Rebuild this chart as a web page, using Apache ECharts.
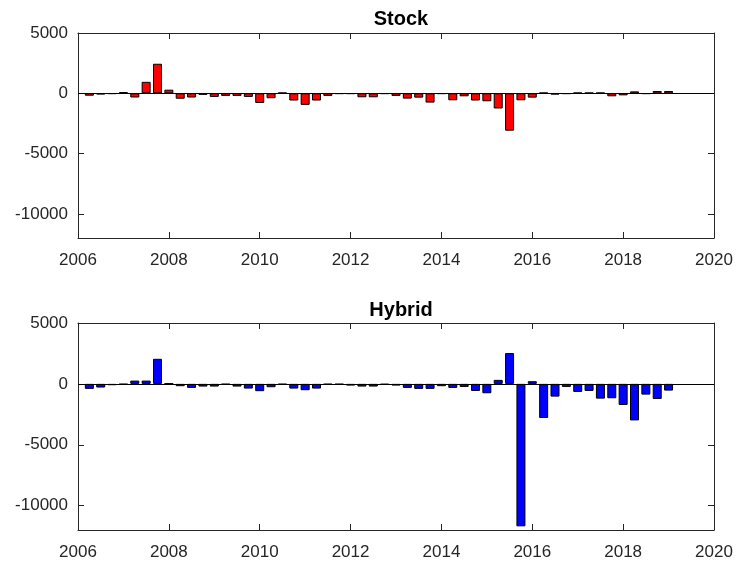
<!DOCTYPE html>
<html>
<head>
<meta charset="utf-8">
<script src="https://cdn.jsdelivr.net/npm/echarts@6/dist/echarts.min.js"></script>
<style>
html,body{margin:0;padding:0;background:#fff;}
#chart{width:738px;height:562px;}
</style>
</head>
<body>
<div id="chart"></div>
<script>
// quarter positions (year + fraction)
var quarters = [2006.25,2006.5,2006.75,2007,2007.25,2007.5,2007.75,2008,
2008.25,2008.5,2008.75,2009,2009.25,2009.5,2009.75,2010,
2010.25,2010.5,2010.75,2011,2011.25,2011.5,2011.75,2012,
2012.25,2012.5,2012.75,2013,2013.25,2013.5,2013.75,2014,
2014.25,2014.5,2014.75,2015,2015.25,2015.5,2015.75,2016,
2016.25,2016.5,2016.75,2017,2017.25,2017.5,2017.75,2018,
2018.25,2018.5,2018.75,2019];

var stockFlow = [-200,-100,-50,100,-350,950,2450,300,
-450,-350,-130,-300,-220,-220,-300,-800,
-410,50,-600,-960,-600,-220,-50,-50,
-330,-330,-50,-220,-440,-360,-770,-50,
-580,-250,-600,-660,-1260,-3100,-580,-360,
50,-110,-50,50,50,50,-250,-170,
160,-50,190,190];

var hybridFlow = [-410,-300,-110,-50,270,270,2060,30,
-190,-330,-220,-220,-50,-220,-385,-600,
-275,-50,-385,-520,-385,-50,-50,-140,
-220,-220,-60,-140,-330,-410,-410,-190,
-330,-250,-580,-770,330,2530,-11700,220,
-2800,-1045,-250,-660,-580,-1210,-1180,-1730,
-3000,-880,-1240,-550];

var yTicks = [-10000,-5000,0,5000];
var titles = ['Stock','Hybrid'];

var myChart = echarts.init(document.getElementById('chart'));
var axisColor = '#262626';
var font = 'Liberation Sans, Arial, sans-serif';
var plain = function(v){ return String(v); };

function pairs(vals){
  return quarters.map(function(q,i){ return [q, vals[i]]; });
}

var grids = [
  {left:78, right:24, top:33, height:205},
  {left:78, right:24, top:323, height:207}
];

var xAxes = [], yAxes = [];
[0,1].forEach(function(g){
  // bottom x axis
  xAxes.push({
    type:'value', gridIndex:g, min:2006, max:2020, interval:2, position:'bottom',
    axisLine:{onZero:false,lineStyle:{color:axisColor,width:1}},
    axisTick:{inside:true,length:6,lineStyle:{color:axisColor}},
    axisLabel:{color:axisColor,fontSize:17,fontFamily:font,margin:14,formatter:plain},
    splitLine:{show:false}
  });
  // top x axis (box)
  xAxes.push({
    type:'value', gridIndex:g, min:2006, max:2020, interval:2, position:'top',
    axisLine:{onZero:false,lineStyle:{color:axisColor,width:1}},
    axisTick:{inside:true,length:6,lineStyle:{color:axisColor}},
    axisLabel:{show:false},
    splitLine:{show:false}
  });
  yAxes.push({
    type:'value', gridIndex:g, min:-12000, max:5000, position:'left',
    axisLine:{show:true,onZero:false,lineStyle:{color:axisColor,width:1}},
    axisTick:{show:true,inside:true,length:6,customValues:yTicks,lineStyle:{color:axisColor}},
    axisLabel:{color:axisColor,fontSize:17,fontFamily:font,margin:10,customValues:yTicks,formatter:plain},
    splitLine:{show:false}
  });
  yAxes.push({
    type:'value', gridIndex:g, min:-12000, max:5000, position:'right',
    axisLine:{show:true,onZero:false,lineStyle:{color:axisColor,width:1}},
    axisTick:{show:true,inside:true,length:6,customValues:yTicks,lineStyle:{color:axisColor}},
    axisLabel:{show:false},
    splitLine:{show:false}
  });
});

function barSeries(g, vals, color){
  return {
    type:'bar', xAxisIndex:g*2, yAxisIndex:g*2, barWidth:9,
    data:pairs(vals),
    itemStyle:{color:color,borderColor:'#000',borderWidth:1},
    silent:true,
    markLine:{
      silent:true, symbol:'none', label:{show:false},
      lineStyle:{color:'#000',width:1,type:'solid'},
      data:[{yAxis:0}]
    }
  };
}

var option = {
  animation:false,
  backgroundColor:'#fff',
  title:[
    {text:titles[0],left:396,top:4,textAlign:'center',textStyle:{fontSize:20,fontWeight:'bold',color:'#000',fontFamily:font}},
    {text:titles[1],left:396,top:295,textAlign:'center',textStyle:{fontSize:20,fontWeight:'bold',color:'#000',fontFamily:font}}
  ],
  grid:grids,
  xAxis:xAxes,
  yAxis:yAxes,
  series:[
    barSeries(0, stockFlow, '#ff0000'),
    barSeries(1, hybridFlow, '#0000ff')
  ]
};

myChart.setOption(option);
</script>
</body>
</html>
